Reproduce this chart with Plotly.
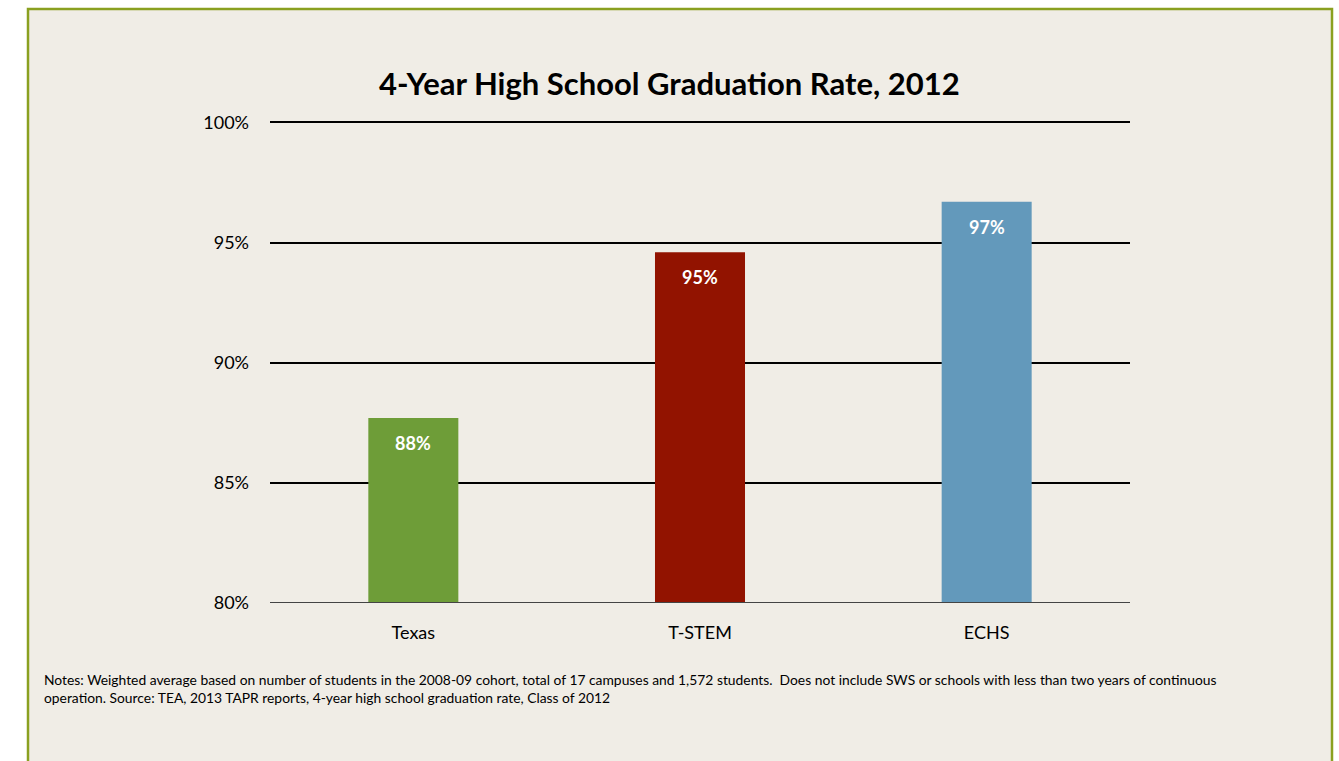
import plotly.graph_objects as go

categories = ["Texas", "T-STEM", "ECHS"]
values = [87.7, 94.6, 96.7]
labels = ["88%", "95%", "97%"]
colors = ["#6e9d38", "#921300", "#6399bb"]
tick_vals = [80, 85, 90, 95, 100]
tick_text = ["80%", "85%", "90%", "95%", "100%"]

title = "4-Year High School Graduation Rate, 2012"
notes = ("Notes: Weighted average based on number of students in the 2008-09 cohort, total of 17 campuses and 1,572 students.  "
         "Does not include SWS or schools with less than two years of continuous<br>"
         "operation. Source: TEA, 2013 TAPR reports, 4-year high school graduation rate, Class of 2012")

FONT = "Lato"
W, H = 1339, 761
L, R, T, B = 270, 209, 120, 158
PW, PH = W - L - R, H - T - B

def px(x):
    return (x - L) / PW

def py(y):
    return 1 - (y - T) / PH

fig = go.Figure()
fig.add_trace(go.Bar(x=categories, y=values, marker=dict(color=colors, line=dict(width=0)),
                     width=0.314, hoverinfo="skip"))

annotations = []
for c, v, t in zip(categories, values, labels):
    annotations.append(dict(x=c, y=v, xref="x", yref="y", text=f"<b>{t}</b>", showarrow=False,
                            yanchor="middle", yshift=-25,
                            font=dict(family=FONT, size=18, color="white")))
annotations.append(dict(x=px(669), y=py(83), xref="paper", yref="paper", text=f"<b>{title}</b>",
                        showarrow=False, xanchor="center", yanchor="middle",
                        font=dict(family=FONT, size=31, color="black")))
annotations.append(dict(x=px(42), y=py(669), xref="paper", yref="paper", text=notes,
                        showarrow=False, xanchor="left", yanchor="top", align="left",
                        font=dict(family=FONT, size=13.85, color="black")))

shapes = [
    dict(type="rect", xref="paper", yref="paper", x0=px(28), x1=px(1332), y0=py(800), y1=py(9),
         line=dict(color="#8aa020", width=2.5), fillcolor="#f0ede6", layer="below"),
]

fig.update_layout(
    width=W, height=H,
    margin=dict(l=L, r=R, t=T, b=B, pad=0),
    paper_bgcolor="white", plot_bgcolor="rgba(0,0,0,0)",
    showlegend=False,
    shapes=shapes, annotations=annotations,
    font=dict(family=FONT, size=18, color="black"),
    xaxis=dict(showgrid=False, showline=False, ticks="", tickfont=dict(size=18),
               ticklabelstandoff=17, range=[-0.5, 2.5], fixedrange=True),
    yaxis=dict(range=[80, 100.1], tickvals=tick_vals, ticktext=tick_text, showgrid=True,
               gridcolor="black", gridwidth=1.5, zeroline=False, showline=False,
               ticks="", ticklabelstandoff=20, tickfont=dict(size=18), fixedrange=True),
)
fig.add_shape(type="line", xref="paper", yref="y", x0=0, x1=1, y0=80, y1=80,
              line=dict(color="#444", width=2), layer="above")

fig.write_html("out.html")
